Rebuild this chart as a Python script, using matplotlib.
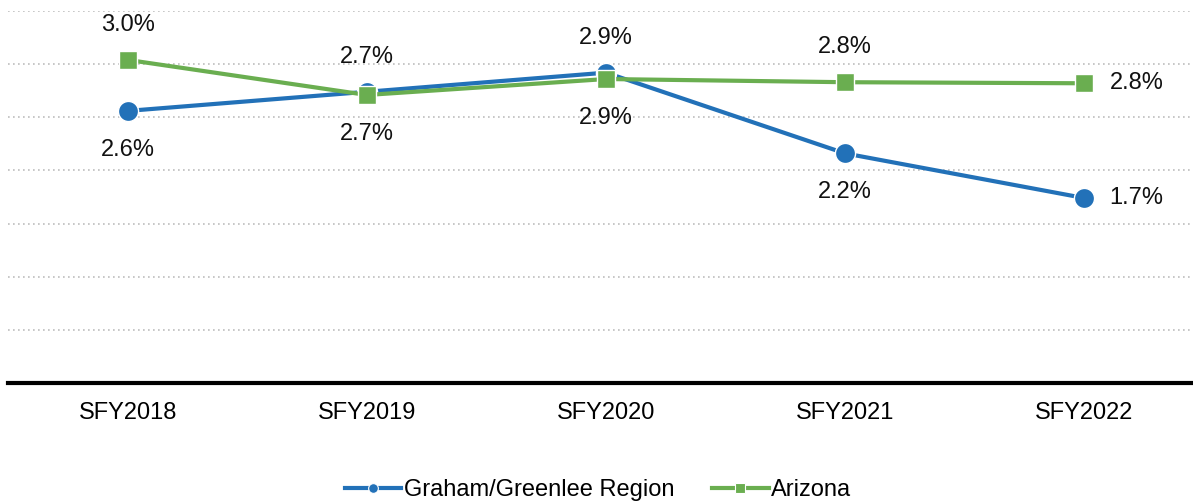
import matplotlib.pyplot as plt
from matplotlib.lines import Line2D

plt.rcParams['font.family'] = ['Liberation Sans', 'DejaVu Sans']

years = ["SFY2018", "SFY2019", "SFY2020", "SFY2021", "SFY2022"]
graham = [2.56, 2.74, 2.92, 2.16, 1.74]
arizona = [3.04, 2.71, 2.86, 2.83, 2.82]

# label placement per point: 'a' above, 'b' below, 'r' right
graham_pos = ["b", "a", "a", "b", "r"]
arizona_pos = ["a", "b", "b", "a", "r"]

blue = "#2271B8"
green = "#6AAE50"

fig = plt.figure(figsize=(11.93, 5.04), dpi=100)
ax = fig.add_axes([8 / 1193, (504 - 383) / 504, 1196 / 1193, 372 / 504])

x = list(range(len(years)))
ax.plot(x, arizona, color=green, lw=3, marker="s", ms=12.5,
        mec="white", mew=1, zorder=3)
ax.plot(x, graham, color=blue, lw=3, marker="o", ms=14.5,
        mec="white", mew=1, zorder=2)

def put_labels(vals, pos):
    for i, (v, p) in enumerate(zip(vals, pos)):
        if p == "a":
            off, ha = (0, 25), "center"
        elif p == "b":
            off, ha = (0, -28), "center"
        else:
            off, ha = (18, 0), "left"
        ax.annotate(f"{v:.1f}%", (i, v), xytext=off, textcoords="offset points",
                    ha=ha, va="center", fontsize=17, color="#111111")

put_labels(graham, graham_pos)
put_labels(arizona, arizona_pos)

ax.set_xlim(-0.5, 4.5)
ax.set_ylim(0, 3.5)
ax.set_yticks([0.5, 1.0, 1.5, 2.0, 2.5, 3.0, 3.5])
ax.yaxis.grid(True, linestyle=(0, (1, 2)), color="#BDBDBD", lw=1.2)
ax.set_axisbelow(True)
ax.tick_params(axis="y", left=False, labelleft=False)
ax.tick_params(axis="x", bottom=False, labelsize=17, pad=10)
ax.set_xticks(x)
ax.set_xticklabels(years)
for s in ["top", "right", "left"]:
    ax.spines[s].set_visible(False)
ax.spines["bottom"].set_linewidth(3)
ax.spines["bottom"].set_color("black")

handles = [
    Line2D([], [], color=blue, lw=3, marker="o", ms=7, mec="white", mew=0.8),
    Line2D([], [], color=green, lw=3, marker="s", ms=7, mec="white", mew=0.8),
]
fig.legend(handles, ["Graham/Greenlee Region", "Arizona"], loc="center",
           bbox_to_anchor=(598 / 1193, 1 - 490 / 504), ncol=2, frameon=False,
           fontsize=17, handlelength=2.4, handletextpad=0.1, columnspacing=1.6)

fig.savefig("out.png", dpi=100)
